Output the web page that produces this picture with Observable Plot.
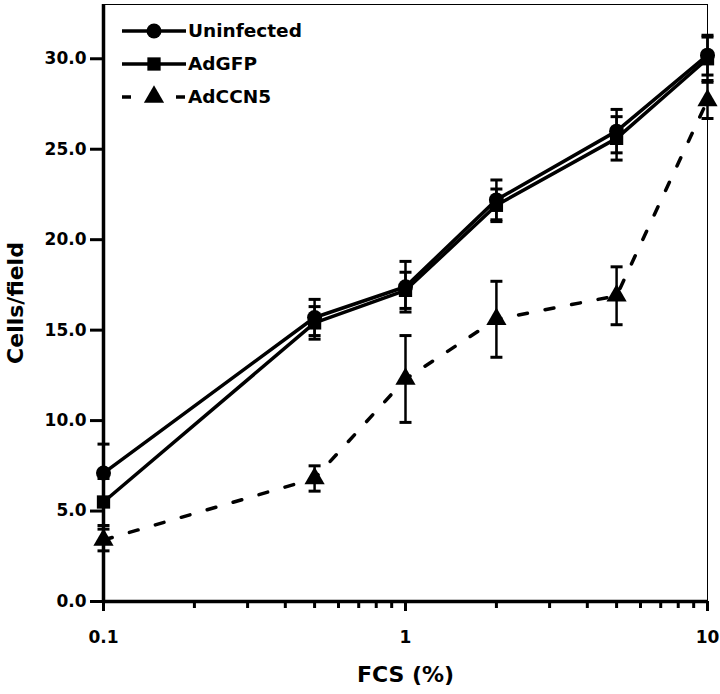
<!DOCTYPE html>
<html>
<head>
<meta charset="utf-8">
<script src="https://cdn.jsdelivr.net/npm/d3@7"></script>
<script src="https://cdn.jsdelivr.net/npm/@observablehq/plot@0.6"></script>
<style>
  body { margin: 0; background: #fff; }
  #wrap { position: relative; width: 720px; height: 694px; font-family: "DejaVu Sans", sans-serif; }
  #legend { position: absolute; left: 122px; top: 14px; font-weight: bold; font-size: 18.5px; color: #000; }
  #legend .row { display: flex; align-items: center; height: 33px; }
  #legend svg { display: block; margin-right: 2px; }
  g[aria-label="y-axis label"] text { font-size: 22px !important; }
  g[aria-label="x-axis label"] text { font-size: 22px !important; }
</style>
</head>
<body>
<div id="wrap"></div>
<script>
// ---- data ----
const fcs = [0.1, 0.5, 1, 2, 5, 10];
const seriesNames = ["Uninfected", "AdGFP", "AdCCN5"];
const uninfected    = [7.1, 15.7, 17.4, 22.2, 26.0, 30.2];
const uninfectedErr = [1.6, 1.0, 1.4, 1.1, 1.2, 1.1];
const adGFP         = [5.5, 15.4, 17.2, 21.9, 25.6, 30.0];
const adGFPErr      = [1.3, 0.9, 1.0, 0.9, 1.2, 1.2];
const adCCN5        = [3.4, 6.8, 12.3, 15.6, 16.9, 27.7];
const adCCN5Err     = [0.6, 0.7, 2.4, 2.1, 1.6, 1.0];
const yTicks = [0, 5, 10, 15, 20, 25, 30];
const xMajor = [0.1, 1, 10];
const xMinor = [0.2,0.3,0.4,0.5,0.6,0.7,0.8,0.9,2,3,4,5,6,7,8,9];

const symbols = {Uninfected: "circle", AdGFP: "square", AdCCN5: "triangle"};
const dashes = {Uninfected: null, AdGFP: null, AdCCN5: "9,18"};

const values = [uninfected, adGFP, adCCN5];
const errs = [uninfectedErr, adGFPErr, adCCN5Err];
const rows = [];
seriesNames.forEach((s, i) => fcs.forEach((x, j) => rows.push({
  series: s, x, y: values[i][j], lo: values[i][j] - errs[i][j], hi: values[i][j] + errs[i][j]
})));

const capSymbol = {
  draw(context, size) {
    const r = Math.sqrt(size / Math.PI);
    context.moveTo(-r, 0);
    context.lineTo(r, 0);
  }
};

const marks = [
  Plot.frame({stroke: "#000", strokeWidth: 1}),
  Plot.ruleX([0.1], {stroke: "#000", strokeWidth: 3.5}),
  Plot.ruleY([0], {stroke: "#000", strokeWidth: 3.5}),
  Plot.axisY(yTicks, {tickFormat: d3.format(".1f"), tickSize: 13, tickPadding: 4, strokeWidth: 3,
    fontSize: 17, fontWeight: "bold", label: "Cells/field", labelAnchor: "center", labelArrow: "none", labelOffset: 96}),
  Plot.axisX(xMinor, {tickSize: 7, strokeWidth: 3, tickFormat: () => "", label: null}),
  Plot.axisX(xMajor, {tickSize: 10, strokeWidth: 3, tickPadding: 19, tickFormat: d => String(d),
    fontSize: 17, fontWeight: "bold", label: "FCS (%)", labelAnchor: "center", labelArrow: "none", labelOffset: 80})
];
for (const s of seriesNames) {
  const d = rows.filter(r => r.series === s);
  marks.push(
    Plot.ruleX(d, {x: "x", y1: "lo", y2: "hi", stroke: "#000", strokeWidth: 2.5}),
    Plot.dot(d, {x: "x", y: "lo", symbol: capSymbol, r: 6, stroke: "#000", strokeWidth: 3, fill: "none"}),
    Plot.dot(d, {x: "x", y: "hi", symbol: capSymbol, r: 6, stroke: "#000", strokeWidth: 3, fill: "none"}),
    Plot.line(d, {x: "x", y: "y", stroke: "#000", strokeWidth: 3.5, strokeDasharray: dashes[s]}),
    Plot.dot(d, {x: "x", y: "y", symbol: symbols[s], r: 7.5, fill: "#000", stroke: "none"})
  );
}

const chart = Plot.plot({
  width: 720, height: 694,
  marginLeft: 103, marginRight: 13, marginTop: 4, marginBottom: 93,
  style: {fontFamily: "'DejaVu Sans', sans-serif", fontSize: "17px", fontWeight: "bold", color: "#000", background: "#fff"},
  x: {type: "log", domain: [0.1, 10]},
  y: {domain: [0, 33]},
  marks
});
const wrap = document.getElementById("wrap");
wrap.appendChild(chart);

// legend overlay
const leg = document.createElement("div");
leg.id = "legend";
for (const s of seriesNames) {
  const row = document.createElement("div");
  row.className = "row";
  const svg = d3.create("svg").attr("width", 64).attr("height", 24);
  svg.append("line").attr("x1", 0).attr("x2", 64).attr("y1", 12).attr("y2", 12)
    .attr("stroke", "#000").attr("stroke-width", 3.5)
    .attr("stroke-dasharray", s === "AdCCN5" ? "9,18" : null);
  const sym = {circle: d3.symbolCircle, square: d3.symbolSquare, triangle: d3.symbolTriangle}[symbols[s]];
  svg.append("path").attr("transform", "translate(32,12)")
    .attr("d", d3.symbol(sym, Math.PI * 7.5 * 7.5)()).attr("fill", "#000");
  row.appendChild(svg.node());
  const t = document.createElement("span");
  t.textContent = s;
  row.appendChild(t);
  leg.appendChild(row);
}
wrap.appendChild(leg);
</script>
</body>
</html>
